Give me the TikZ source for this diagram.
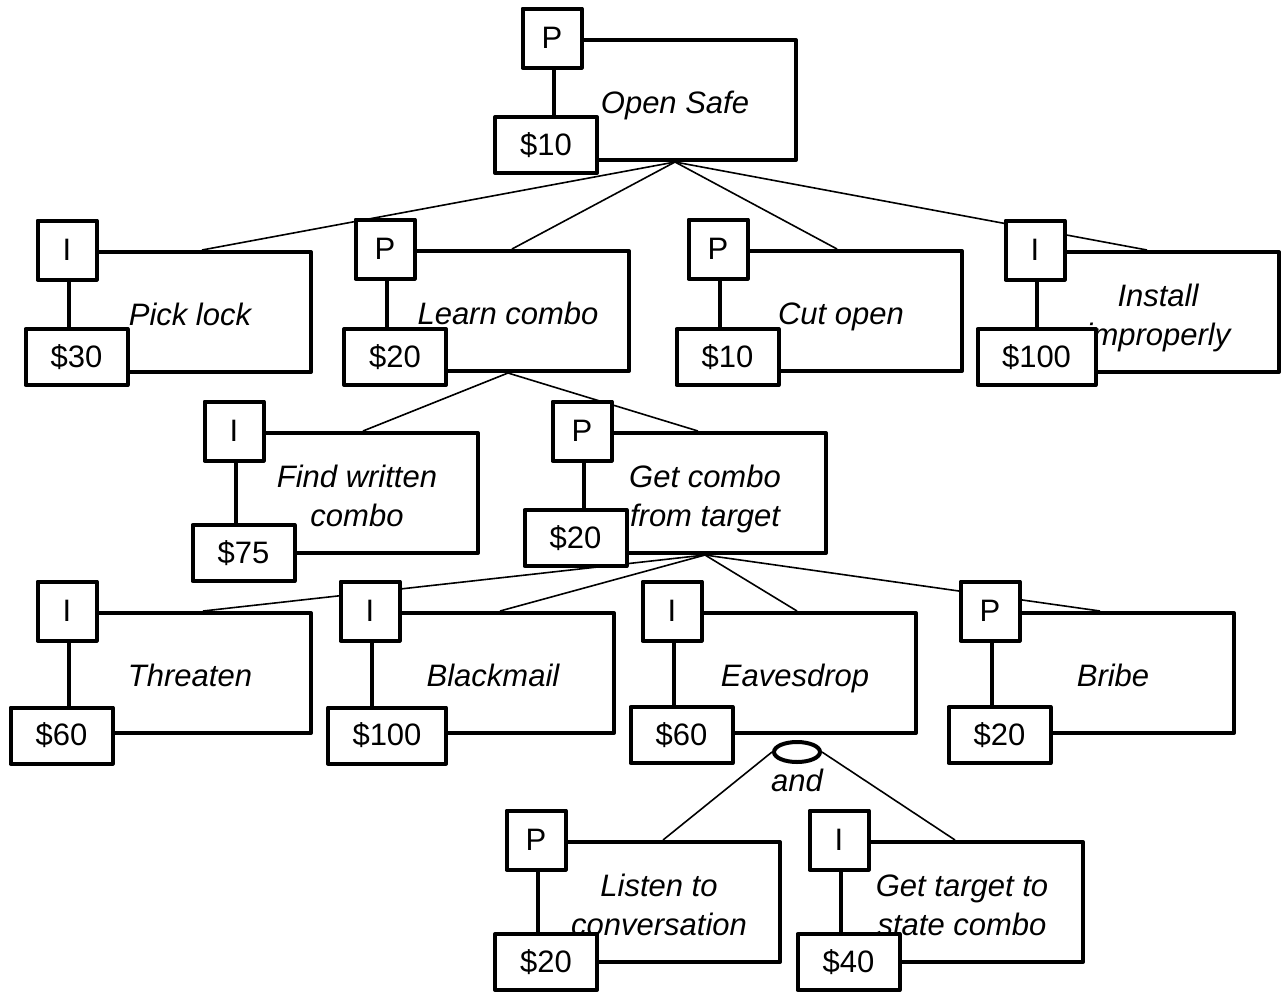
\documentclass[tikz,border=0pt]{standalone}
\usepackage{fontspec}
\setmainfont{Liberation Sans}
\usetikzlibrary{shapes.geometric,backgrounds}
\newcommand{\headroom}{\rule{0pt}{39pt}}
\begin{document}
\begin{tikzpicture}[x=1pt,y=-1pt,
  every node/.style={font=\fontsize{31}{39}\selectfont, inner sep=0pt},
  goal/.style={draw, line width=4pt, line join=round, fill=white,
    minimum width=242pt, minimum height=120pt, align=center,
    font=\fontsize{31}{39}\selectfont\itshape,
    execute at begin node=\headroom, execute at end node=\strut},
  kind/.style={draw, line width=4pt, line join=round, fill=white,
    minimum width=59pt, minimum height=59pt},
  cost/.style={draw, line width=4pt, line join=round, fill=white,
    minimum width=102pt, minimum height=56pt},
  widecost/.style={cost, minimum width=118pt},
  conj/.style={draw, ellipse, line width=4pt, fill=white,
    minimum width=46pt, minimum height=20pt},
  link/.style={line width=1.6pt}
]
\useasboundingbox (0,0) rectangle (1282,1002);

% root
\node[goal] (os) at (675,100) {Open Safe};
\node[kind] (osk) at (os.north west) {P};
\node[cost] (osc) at (546,145) {\$10};

% second level
\node[goal] (pick) at (190,312) {Pick lock};
\node[kind] (pickk) at (pick.north west) {I};
\node[cost] (pickc) at (76.5,357) {\$30};

\node[goal] (learn) at (508,311) {Learn combo};
\node[kind] (learnk) at (learn.north west) {P};
\node[cost] (learnc) at (395,357) {\$20};

\node[goal] (cut) at (841,311) {Cut open};
\node[kind] (cutk) at (cut.north west) {P};
\node[cost] (cutc) at (727.5,357) {\$10};

\node[goal] (inst) at (1158,312) {\headroom Install\\improperly};
\node[kind] (instk) at (inst.north west) {I};
\node[widecost] (instc) at (1036.5,357) {\$100};

% ways to learn the combination
\node[goal] (find) at (357,493) {\headroom Find written\\combo};
\node[kind] (findk) at (find.north west) {I};
\node[cost] (findc) at (243.5,553) {\$75};

\node[goal] (getc) at (705,493) {\headroom Get combo\\from target};
\node[kind] (getck) at (getc.north west) {P};
\node[cost] (getcc) at (575.5,538) {\$20};

% ways to get the combination from the target
\node[goal] (thr) at (190,673) {Threaten};
\node[kind] (thrk) at (thr.north west) {I};
\node[cost] (thrc) at (61.5,735.5) {\$60};

\node[goal] (blk) at (493,673) {Blackmail};
\node[kind] (blkk) at (blk.north west) {I};
\node[widecost] (blkc) at (387,735.5) {\$100};

\node[goal] (eav) at (795,673) {Eavesdrop};
\node[kind] (eavk) at (eav.north west) {I};
\node[cost] (eavc) at (681.5,735) {\$60};

\node[goal] (brb) at (1113,673) {Bribe};
\node[kind] (brbk) at (brb.north west) {P};
\node[cost] (brbc) at (999.5,735) {\$20};

% AND node under eavesdropping
\node[conj] (and) at (797,752) {};
\node[font=\fontsize{31}{39}\selectfont\itshape] (andlbl) at (797,780) {and};

\node[goal] (lis) at (659,902) {\headroom Listen to\\conversation};
\node[kind] (lisk) at (lis.north west) {P};
\node[cost] (lisc) at (546,962) {\$20};

\node[goal] (gtc) at (962,902) {\headroom Get target to\\state combo};
\node[kind] (gtck) at (gtc.north west) {I};
\node[cost] (gtcc) at (848.5,962) {\$40};

% tree edges, behind the boxes
\begin{scope}[on background layer]
  \draw[link] (os.south) -- ([xshift=12pt]pick.north);
  \draw[link] (os.south) -- ([xshift=4pt]learn.north);
  \draw[link] (os.south) -- ([xshift=-4pt]cut.north);
  \draw[link] (os.south) -- ([xshift=-11pt]inst.north);

  \draw[link] (learn.south) -- ([xshift=6pt]find.north);
  \draw[link] (learn.south) -- ([xshift=-7pt]getc.north);

  \draw[link] (getc.south) -- ([xshift=13pt]thr.north);
  \draw[link] (getc.south) -- ([xshift=7pt]blk.north);
  \draw[link] (getc.south) -- ([xshift=2pt]eav.north);
  \draw[link] (getc.south) -- ([xshift=-13pt]brb.north);

  \draw[link] (and.west) -- ([xshift=4pt]lis.north);
  \draw[link] (and.east) -- ([xshift=-7pt]gtc.north);
\end{scope}
\end{tikzpicture}
\end{document}
